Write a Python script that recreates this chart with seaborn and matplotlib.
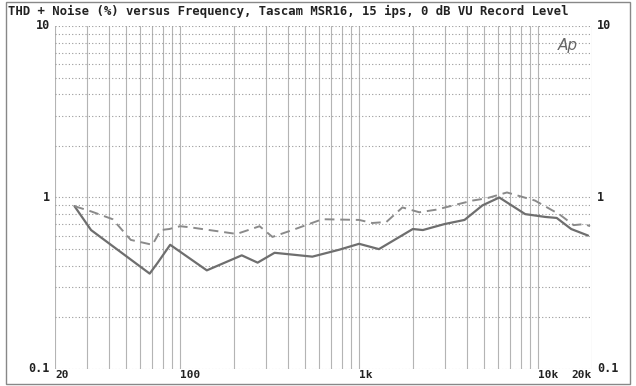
import numpy as np
import pandas as pd
import matplotlib
matplotlib.use("Agg")
import matplotlib.pyplot as plt
from matplotlib.ticker import NullFormatter
import seaborn as sns

# solid trace (left channel)
solid_freq = [25.7, 31.8, 67.6, 75, 88, 141, 221, 271, 337, 548, 774, 1000, 1290,
              1995, 2270, 3000, 3880, 4890, 6070, 8470, 11000, 12700, 15300, 19000]
solid_thd = [0.89, 0.646, 0.36, 0.417, 0.53, 0.376, 0.46, 0.417, 0.476, 0.452, 0.496,
             0.537, 0.50, 0.655, 0.646, 0.70, 0.74, 0.90, 1.0, 0.80, 0.77, 0.76, 0.655, 0.60]

# dashed trace (right channel)
dash_freq = [25.7, 31.8, 42, 53, 70, 78, 87, 100, 114, 207, 278, 328, 424, 623, 1000,
             1183, 1420, 1746, 2170, 2710, 3510, 4310, 5170, 6700, 9600, 11800, 13100,
             15800, 18200, 19500]
dash_thd = [0.89, 0.83, 0.747, 0.566, 0.53, 0.646, 0.655, 0.68, 0.67, 0.613, 0.68, 0.589,
            0.646, 0.747, 0.74, 0.71, 0.72, 0.875, 0.82, 0.85, 0.91, 0.96, 0.99, 1.07,
            0.96, 0.85, 0.80, 0.69, 0.70, 0.68]

xtick_vals = [20, 100, 1000, 10000, 20000]
xtick_text = ["20", "100", "1k", "10k", "20k"]
ytick_vals = [0.1, 1, 10]
ytick_text = ["0.1", "1", "10"]

title = "THD + Noise (%) versus Frequency, Tascam MSR16, 15 ips, 0 dB VU Record Level"

df_solid = pd.DataFrame({"freq": solid_freq, "thd": solid_thd})
df_dash = pd.DataFrame({"freq": dash_freq, "thd": dash_thd})

sns.set_style("white")
plt.rcParams["font.family"] = ["DejaVu Sans Mono"]

fig = plt.figure(figsize=(6.36, 3.86), dpi=100)
ax = fig.add_axes([55 / 636, 1 - 369 / 386, 537 / 636, 343 / 386])

sns.lineplot(data=df_solid, x="freq", y="thd", ax=ax, color="#6e6e6e", lw=1.6,
             sort=False, estimator=None)
sns.lineplot(data=df_dash, x="freq", y="thd", ax=ax, color="#8a8a8a", lw=1.4,
             linestyle=(0, (5, 3)), sort=False, estimator=None)

ax.set_xscale("log")
ax.set_yscale("log")
ax.set_xlim(20, 20000)
ax.set_ylim(0.1, 10)

# grid: solid verticals, dotted horizontals
ax.set_xticks(xtick_vals)
ax.set_xticklabels([])
ax.xaxis.set_minor_formatter(NullFormatter())
ax.yaxis.set_minor_formatter(NullFormatter())
ax.set_yticks(ytick_vals)
ax.set_yticklabels([])
ax.grid(True, which="both", axis="x", color="#b4b4b4", lw=0.8, ls="-")
ax.grid(True, which="both", axis="y", color="#9a9a9a", lw=0.8, ls=(0, (1, 2)))
ax.tick_params(which="both", length=0)
for s in ax.spines.values():
    s.set_visible(False)
ax.set_xlabel("")
ax.set_ylabel("")

# tick labels placed like the analyzer print-out
for v, t in zip(xtick_vals, xtick_text):
    ha = "right" if v == 20000 else "left"
    ax.text(v, -0.004, t, transform=ax.get_xaxis_transform(), ha=ha, va="top",
            fontsize=8, fontweight="bold", color="#222222")
for v, t in zip(ytick_vals, ytick_text):
    ax.text(-0.01, v, t, transform=ax.get_yaxis_transform(), ha="right", va="center",
            fontsize=8.5, fontweight="bold", color="#222222")
    ax.text(1.01, v, t, transform=ax.get_yaxis_transform(), ha="left", va="center",
            fontsize=8.5, fontweight="bold", color="#222222")

fig.text(8 / 636, 1 - 11 / 386, title, ha="left", va="center", fontsize=8.8,
         fontweight="bold", color="#222222")
ax.text(0.955, 0.965, "Ap", transform=ax.transAxes, ha="center", va="top",
        fontsize=11, style="italic", color="#666666", family="DejaVu Sans")

# outer frame of the print-out
fig.add_artist(plt.Rectangle((6 / 636, 2 / 386), 624 / 636, 382 / 386,
                             transform=fig.transFigure, fill=False,
                             edgecolor="#888888", lw=1.0))

fig.savefig("out.png", dpi=100)
